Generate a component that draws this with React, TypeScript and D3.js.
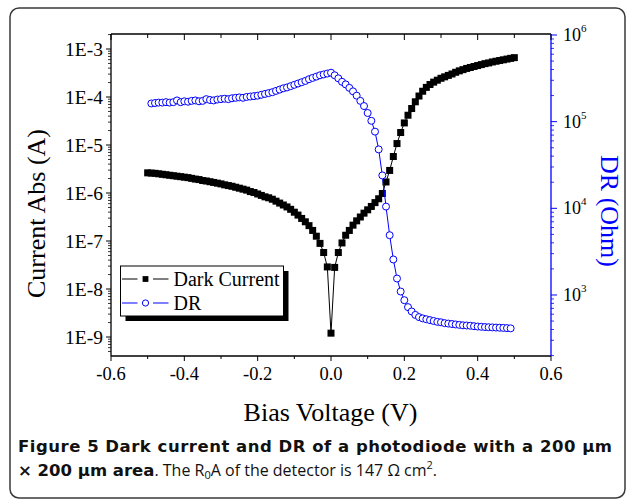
import React from "react";
import * as d3 from "d3";

// Bias voltage (V) of the dark-current points
const darkVoltage = [
  -0.5, -0.49, -0.48, -0.47, -0.46, -0.45, -0.44, -0.43, -0.42, -0.41,
  -0.4, -0.39, -0.38, -0.37, -0.36, -0.35, -0.34, -0.33, -0.32, -0.31,
  -0.3, -0.29, -0.28, -0.27, -0.26, -0.25, -0.24, -0.23, -0.22, -0.21,
  -0.2, -0.19, -0.18, -0.17, -0.16, -0.15, -0.14, -0.13, -0.12, -0.11,
  -0.1, -0.09, -0.08, -0.07, -0.06, -0.05, -0.04, -0.03, -0.02, -0.01,
  0,
  0.01, 0.02, 0.03, 0.04, 0.05, 0.06, 0.07, 0.08, 0.09, 0.1,
  0.11, 0.12, 0.13, 0.14, 0.15, 0.16, 0.17, 0.18, 0.19, 0.2,
  0.21, 0.22, 0.23, 0.24, 0.25, 0.26, 0.27, 0.28, 0.29, 0.3,
  0.31, 0.32, 0.33, 0.34, 0.35, 0.36, 0.37, 0.38, 0.39, 0.4,
  0.41, 0.42, 0.43, 0.44, 0.45, 0.46, 0.47, 0.48, 0.49, 0.5,
];
// log10 of |dark current| (A)
const darkCurrentLog = [
  -5.58, -5.585, -5.59, -5.6, -5.61, -5.62, -5.63, -5.64, -5.65, -5.66,
  -5.67, -5.68, -5.695, -5.71, -5.72, -5.74, -5.75, -5.765, -5.78, -5.795,
  -5.81, -5.83, -5.845, -5.86, -5.88, -5.9, -5.92, -5.94, -5.97, -5.99,
  -6.02, -6.05, -6.08, -6.1, -6.13, -6.17, -6.21, -6.25, -6.29, -6.34,
  -6.4, -6.46, -6.53, -6.6, -6.68, -6.78, -6.9, -7.05, -7.24, -7.54,
  -8.92,
  -7.55, -7.24, -7.04, -6.88, -6.78, -6.67, -6.58, -6.5, -6.42, -6.35,
  -6.28, -6.2, -6.12, -6.01, -5.77, -5.53, -5.24, -4.97, -4.74, -4.54,
  -4.38, -4.24, -4.1, -3.98, -3.88, -3.8, -3.74, -3.69, -3.65, -3.61,
  -3.58, -3.55, -3.52, -3.485, -3.455, -3.43, -3.405, -3.385, -3.365, -3.345,
  -3.325, -3.305, -3.29, -3.27, -3.255, -3.24, -3.225, -3.21, -3.195, -3.18,
];
// Bias voltage (V) of the DR points
const drVoltage = [
  -0.49, -0.48, -0.47, -0.46, -0.45, -0.44, -0.43, -0.42, -0.41, -0.4,
  -0.39, -0.38, -0.37, -0.36, -0.35, -0.34, -0.33, -0.32, -0.31, -0.3,
  -0.29, -0.28, -0.27, -0.26, -0.25, -0.24, -0.23, -0.22, -0.21, -0.2,
  -0.19, -0.18, -0.17, -0.16, -0.15, -0.14, -0.13, -0.12, -0.11, -0.1,
  -0.09, -0.08, -0.07, -0.06, -0.05, -0.04, -0.03, -0.02, -0.01, 0,
  0.01, 0.02, 0.03, 0.04, 0.05, 0.06, 0.07, 0.08, 0.09, 0.1,
  0.11, 0.12, 0.13, 0.14, 0.15, 0.16, 0.17, 0.18, 0.19, 0.2,
  0.21, 0.22, 0.23, 0.24, 0.25, 0.26, 0.27, 0.28, 0.29, 0.3,
  0.31, 0.32, 0.33, 0.34, 0.35, 0.36, 0.37, 0.38, 0.39, 0.4,
  0.41, 0.42, 0.43, 0.44, 0.45, 0.46, 0.47, 0.48, 0.49,
];
// log10 of DR (Ohm)
const drLog = [
  5.21, 5.215, 5.22, 5.22, 5.225, 5.22, 5.225, 5.245, 5.225, 5.235,
  5.23, 5.24, 5.245, 5.235, 5.24, 5.26, 5.25, 5.245, 5.255, 5.26,
  5.265, 5.26, 5.27, 5.275, 5.28, 5.275, 5.285, 5.29, 5.295, 5.3,
  5.31, 5.32, 5.33, 5.34, 5.355, 5.37, 5.385, 5.395, 5.41, 5.425,
  5.44, 5.455, 5.47, 5.49, 5.505, 5.52, 5.535, 5.545, 5.555, 5.565,
  5.535, 5.5, 5.46, 5.43, 5.39, 5.35, 5.3, 5.24, 5.18, 5.1,
  5.01, 4.885, 4.68, 4.38, 4.02, 3.69, 3.41, 3.19, 3.04, 2.94,
  2.86, 2.81, 2.77, 2.745, 2.73, 2.72, 2.71, 2.7, 2.69, 2.685,
  2.675, 2.67, 2.665, 2.66, 2.655, 2.65, 2.648, 2.645, 2.64, 2.636,
  2.633, 2.63, 2.628, 2.626, 2.624, 2.622, 2.62, 2.618, 2.615,
];

const xMajorTicks = [-0.6, -0.4, -0.2, 0, 0.2, 0.4, 0.6];
const xMinorTicks = [-0.5, -0.3, -0.1, 0.1, 0.3, 0.5];
const xTickLabels = ["-0.6", "-0.4", "-0.2", "0.0", "0.2", "0.4", "0.6"];
const leftDecades = [-3, -4, -5, -6, -7, -8, -9];
const leftTickLabels = ["1E-3", "1E-4", "1E-5", "1E-6", "1E-7", "1E-8", "1E-9"];
const rightDecades = [3, 4, 5, 6];
const rightTickExponents = ["3", "4", "5", "6"];
const seriesNames = ["Dark Current", "DR"];

const W = 627;
const H = 499;
const P = { left: 111, right: 551, top: 34, bottom: 356 };
const BLUE = "#0000ff";
const SERIF = "'Liberation Serif', 'Times New Roman', serif";
const SANS = "'Open Sans', 'Noto Sans', sans-serif";
const SANS_BOLD = "'DejaVu Sans', 'Open Sans', sans-serif";

export default function App() {
  const x = d3.scaleLinear().domain([-0.6, 0.6]).range([P.left, P.right]);
  const yL = d3
    .scaleLog()
    .domain([Math.pow(10, -9.3958), Math.pow(10, -2.6875)])
    .range([P.bottom, P.top]);
  const yR = d3
    .scaleLog()
    .domain([Math.pow(10, 2.296), Math.pow(10, 6.0115)])
    .range([P.bottom, P.top]);

  const dark = darkVoltage.map((v, i) => ({ v, y: Math.pow(10, darkCurrentLog[i]) }));
  const dr = drVoltage.map((v, i) => ({ v, y: Math.pow(10, drLog[i]) }));

  const darkLine = d3
    .line<{ v: number; y: number }>()
    .x((d) => x(d.v))
    .y((d) => yL(d.y));
  const drLine = d3
    .line<{ v: number; y: number }>()
    .x((d) => x(d.v))
    .y((d) => yR(d.y));

  const minorLog = (scale: any, dLo: number, dHi: number) => {
    const [lo, hi] = scale.domain();
    const out: number[] = [];
    for (let d = dLo; d <= dHi; d++) {
      for (let k = 2; k <= 9; k++) {
        const val = k * Math.pow(10, d);
        if (val >= lo && val <= hi) out.push(val);
      }
    }
    return out;
  };
  const leftMinor = minorLog(yL, -10, -3);
  const rightMinor = minorLog(yR, 2, 6);

  const sq = 7;

  return (
    <svg
      width={W}
      height={H}
      style={{ position: "absolute", left: 0, top: 0, background: "#fff" }}
    >
      <rect x={0} y={0} width={W} height={H} fill="#fff" />
      <rect
        x={10}
        y={8}
        width={615}
        height={490}
        rx={9}
        fill="none"
        stroke="#3a3a3a"
        strokeWidth={1.5}
      />

      {/* plot frame */}
      <line x1={P.left} x2={P.right} y1={P.top} y2={P.top} stroke="#000" strokeWidth={1.3} />
      <line x1={P.left} x2={P.right} y1={P.bottom} y2={P.bottom} stroke="#000" strokeWidth={1.3} />
      <line x1={P.left} x2={P.left} y1={P.top} y2={P.bottom} stroke="#000" strokeWidth={1.3} />
      <line x1={P.right} x2={P.right} y1={P.top} y2={P.bottom} stroke={BLUE} strokeWidth={1.3} />

      {/* x ticks */}
      {xMajorTicks.map((t, i) => (
        <g key={"xm" + i}>
          <line x1={x(t)} x2={x(t)} y1={P.bottom} y2={P.bottom + 5} stroke="#000" strokeWidth={1} />
          <line x1={x(t)} x2={x(t)} y1={P.top} y2={P.top + 6} stroke="#000" strokeWidth={1} />
          <text
            x={x(t)}
            y={P.bottom + 24}
            textAnchor="middle"
            fontFamily={SERIF}
            fontSize={18.5}
            fill="#000"
          >
            {xTickLabels[i]}
          </text>
        </g>
      ))}
      {xMinorTicks.map((t, i) => (
        <g key={"xn" + i}>
          <line x1={x(t)} x2={x(t)} y1={P.bottom} y2={P.bottom + 3} stroke="#000" strokeWidth={1} />
          <line x1={x(t)} x2={x(t)} y1={P.top} y2={P.top + 4} stroke="#000" strokeWidth={1} />
        </g>
      ))}

      {/* left axis ticks */}
      {leftDecades.map((d, i) => (
        <g key={"ld" + i}>
          <line
            x1={P.left - 5}
            x2={P.left}
            y1={yL(Math.pow(10, d))}
            y2={yL(Math.pow(10, d))}
            stroke="#000"
            strokeWidth={1}
          />
          <text
            x={P.left - 8}
            y={yL(Math.pow(10, d)) + 6.5}
            textAnchor="end"
            fontFamily={SERIF}
            fontSize={19.5}
            fill="#000"
          >
            {leftTickLabels[i]}
          </text>
        </g>
      ))}
      {leftMinor.map((v, i) => (
        <line
          key={"lm" + i}
          x1={P.left - 3}
          x2={P.left}
          y1={yL(v)}
          y2={yL(v)}
          stroke="#000"
          strokeWidth={0.8}
        />
      ))}

      {/* right axis ticks */}
      {rightDecades.map((d, i) => (
        <g key={"rd" + i}>
          <line
            x1={P.right}
            x2={P.right + 6}
            y1={yR(Math.pow(10, d))}
            y2={yR(Math.pow(10, d))}
            stroke={BLUE}
            strokeWidth={1}
          />
          <text
            x={P.right + 12}
            y={yR(Math.pow(10, d)) + 6}
            fontFamily={SERIF}
            fontSize={18}
            fill="#000"
          >
            10
            <tspan dy={-9} fontSize={11}>
              {rightTickExponents[i]}
            </tspan>
          </text>
        </g>
      ))}
      {rightMinor.map((v, i) => (
        <line
          key={"rm" + i}
          x1={P.right}
          x2={P.right + 3}
          y1={yR(v)}
          y2={yR(v)}
          stroke={BLUE}
          strokeWidth={0.8}
        />
      ))}

      {/* dark current */}
      <path d={darkLine(dark) || ""} fill="none" stroke="#000" strokeWidth={1} />
      {dark.map((d, i) => (
        <rect
          key={"dk" + i}
          x={x(d.v) - sq / 2}
          y={yL(d.y) - sq / 2}
          width={sq}
          height={sq}
          fill="#000"
        />
      ))}

      {/* DR */}
      <path d={drLine(dr) || ""} fill="none" stroke={BLUE} strokeWidth={1} />
      {dr.map((d, i) => (
        <circle
          key={"dr" + i}
          cx={x(d.v)}
          cy={yR(d.y)}
          r={3.5}
          fill="#fff"
          stroke={BLUE}
          strokeWidth={1}
        />
      ))}

      {/* legend */}
      <rect x={125.5} y={271} width={163} height={50} fill="#000" />
      <rect x={120.5} y={266} width={163} height={50} fill="#fff" stroke="#000" strokeWidth={1} />
      <line x1={122} x2={137.5} y1={279} y2={279} stroke="#000" strokeWidth={1} />
      <line x1={153} x2={168.5} y1={279} y2={279} stroke="#000" strokeWidth={1} />
      <rect x={145.5 - 2.9} y={279 - 2.9} width={5.8} height={5.8} fill="#000" />
      <text x={173.5} y={286} fontFamily={SERIF} fontSize={20} fill="#000">
        {seriesNames[0]}
      </text>
      <line x1={122} x2={137.5} y1={303} y2={303} stroke={BLUE} strokeWidth={1} />
      <line x1={153} x2={168.5} y1={303} y2={303} stroke={BLUE} strokeWidth={1} />
      <circle cx={145.5} cy={303} r={3.1} fill="#fff" stroke={BLUE} strokeWidth={1} />
      <text x={173.5} y={310} fontFamily={SERIF} fontSize={20} fill="#000">
        {seriesNames[1]}
      </text>

      {/* axis titles */}
      <text
        transform="translate(45,213.5) rotate(-90)"
        textAnchor="middle"
        fontFamily={SERIF}
        fontSize={26}
        fill="#000"
      >
        Current Abs (A)
      </text>
      <text
        transform="translate(601,211) rotate(90)"
        textAnchor="middle"
        fontFamily={SERIF}
        fontSize={26}
        fill={BLUE}
      >
        DR (Ohm)
      </text>
      <text
        x={330.5}
        y={421}
        textAnchor="middle"
        fontFamily={SERIF}
        fontSize={26}
        fill="#000"
      >
        Bias Voltage (V)
      </text>

      {/* caption */}
      <text
        x={18}
        y={452}
        fontFamily={SANS_BOLD}
        fontSize={16.5}
        fontWeight="bold"
        fill="#111"
        textLength={594}
        lengthAdjust="spacing"
      >
        Figure 5 Dark current and DR of a photodiode with a 200 µm
      </text>
      <text x={18} y={476} fontFamily={SANS} fontSize={16} fill="#111">
        <tspan fontFamily={SANS_BOLD} fontWeight="bold" fontSize={16.5}>
          × 200 µm area
        </tspan>
        <tspan>. The R</tspan>
        <tspan fontSize={11} dy={3}>0</tspan>
        <tspan dy={-3}>A of the detector is 147 Ω cm</tspan>
        <tspan fontSize={11} dy={-7}>2</tspan>
        <tspan dy={7}>.</tspan>
      </text>
    </svg>
  );
}
